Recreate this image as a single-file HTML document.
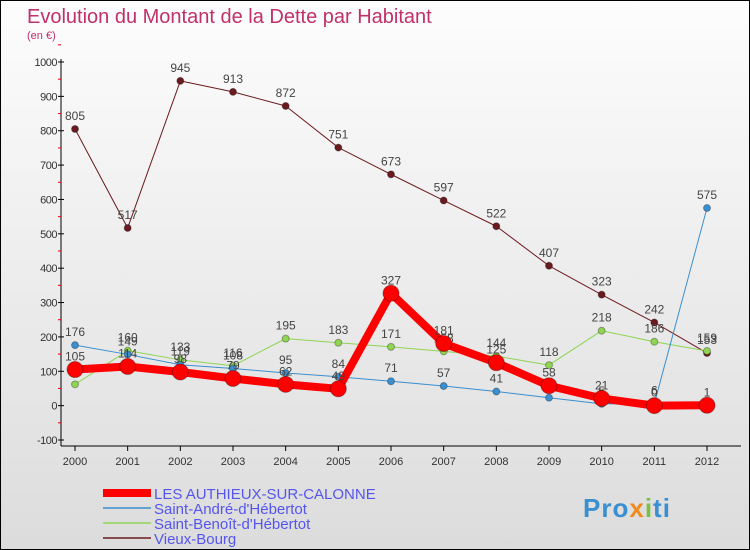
<!DOCTYPE html>
<html><head><meta charset="utf-8">
<style>
body{margin:0;padding:0}
#wrap{width:748px;height:548px;border:1px solid #000;position:relative;background:linear-gradient(#fdfdfd,#dcdcdc);overflow:hidden;font-family:"Liberation Sans",sans-serif}
svg{position:absolute;left:0;top:0}
</style></head>
<body>
<div id="wrap">
<svg id="chart" width="748" height="548">
<text x="26" y="22" font-size="20" fill="#c0306a">Evolution du Montant de la Dette par Habitant</text>
<text x="26" y="38" font-size="11" fill="#c0306a">(en €)</text>
<g id="axes"></g>
<g id="series"></g>
<g id="legend"></g>
<g>
<text x="582" y="516" font-size="26" font-weight="bold" fill="#3a8fd0" letter-spacing="1">Pro<tspan fill="#f08a1c">x</tspan><tspan fill="#7ac043">i</tspan>ti</text>
</g>
</svg>
</div>
<script>
const years=[2000,2001,2002,2003,2004,2005,2006,2007,2008,2009,2010,2011,2012];
const yTicks=[-100,0,100,200,300,400,500,600,700,800,900,1000];
const authieux=[105,114,98,79,62,49,327,181,125,58,21,0,1];
const andre=[176,149,119,108,95,84,71,57,41,23,5,6,575];
const benoit=[62,160,133,116,195,183,171,158,144,118,218,186,159];
const vieux=[805,517,945,913,872,751,673,597,522,407,323,242,153];
const NS='http://www.w3.org/2000/svg';
const x0=74,x1=706,yTop=61,yBot=439;
function xs(i){return x0+(x1-x0)*i/(years.length-1);}
function ys(v){return yBot-(v+100)/1100*(yBot-yTop);}
function mk(tag,attrs,parent){const e=document.createElementNS(NS,tag);for(const k in attrs)e.setAttribute(k,attrs[k]);parent.appendChild(e);return e;}
const axes=document.getElementById('axes');
let l=mk('line',{x1:60,y1:58,x2:60,y2:445,stroke:'#000'},axes);


l=mk('line',{x1:60,y1:445,x2:740,y2:445,stroke:'#000'},axes);


yTicks.forEach(v=>{const y=ys(v);
 mk('line',{x1:57,y1:y,x2:63,y2:y,stroke:'#000'},axes);
 mk('line',{x1:57,y1:ys(v+50),x2:60,y2:ys(v+50),stroke:'#e00'},axes);
 const t=mk('text',{x:56,y:y+4,'font-size':11,fill:'#333','text-anchor':'end','letter-spacing':'-0.5'},axes);
 t.textContent=v;
 
 
});
years.forEach((yr,i)=>{const x=xs(i);
 mk('line',{x1:x,y1:445,x2:x,y2:450,stroke:'#000'},axes);
 const t=mk('text',{x:x,y:464,'font-size':11,fill:'#333','text-anchor':'middle'},axes);
 t.textContent=yr;
 
 
});
const ser=document.getElementById('series');
const defs=[
 {d:vieux,c:'#6b1a1f',w:1,r:3.5,n:'vieux-bourg'},
 {d:benoit,c:'#8fd452',w:1,r:3.5,n:'saint-benoit'},
 {d:andre,c:'#3a8fd0',w:1,r:3.5,n:'saint-andre'},
 {d:authieux,c:'#f00',w:8,r:8,n:'les-authieux'}];
defs.forEach(s=>{
 const g=mk('g',{},ser);
 
 
 const pts=s.d.map((v,i)=>xs(i)+','+ys(v)).join(' ');
 const pl=mk('polyline',{points:pts,fill:'none',stroke:s.c,'stroke-width':s.w,'stroke-linejoin':'round'},g);
 
 
 s.d.forEach((v,i)=>{
  const c=mk('circle',{cx:xs(i),cy:ys(v),r:s.r,fill:s.c,stroke:'rgba(0,0,0,0.3)','stroke-width':1},g);
  
  
  const t=mk('text',{x:xs(i),y:ys(v)-9,'font-size':12,fill:'#444','text-anchor':'middle'},g);
  t.textContent=v;
  
  
 });
});
const leg=document.getElementById('legend');
const items=[['LES AUTHIEUX-SUR-CALONNE','#f00',8],["Saint-André-d'Hébertot",'#3a8fd0',1.5],["Saint-Benoît-d'Hébertot",'#8fd452',1.5],['Vieux-Bourg','#6b1a1f',1.5]];
items.forEach((it,i)=>{const y=492+i*15;
 const g=mk('g',{},leg);
 
 
 mk('line',{x1:102,y1:y,x2:150,y2:y,stroke:it[1],'stroke-width':it[2]},g);
 const t=mk('text',{x:153,y:y+6,'font-size':15,fill:'#5555ee'},g);
 t.textContent=it[0];
});
</script>
</body></html>
